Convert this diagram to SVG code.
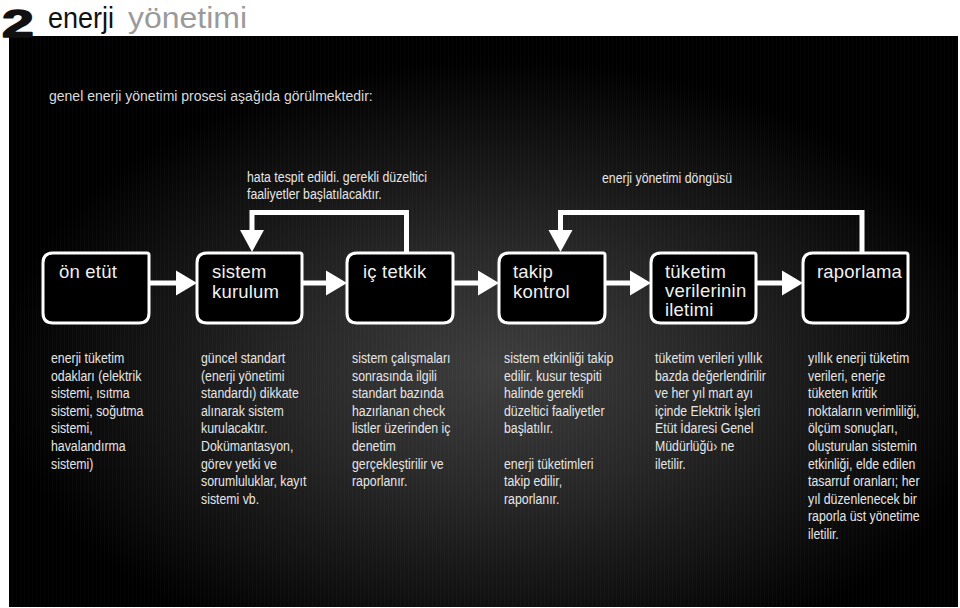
<svg xmlns="http://www.w3.org/2000/svg" width="960" height="608" viewBox="0 0 960 608">
<defs>
<radialGradient id="glow" gradientUnits="userSpaceOnUse" cx="500" cy="370" r="500" gradientTransform="translate(500 370) scale(1 0.62) translate(-500 -370)">
<stop offset="0" stop-color="#3e3e3e"/>
<stop offset="0.4" stop-color="#282828"/>
<stop offset="0.75" stop-color="#111"/>
<stop offset="1" stop-color="#000"/>
</radialGradient>
<pattern id="streaks" patternUnits="userSpaceOnUse" width="4" height="10">
<rect x="0" y="0" width="1" height="10" fill="#fff" fill-opacity="0.025"/>
</pattern>
<style>
.box{fill:#000;stroke:#fff;stroke-width:3}
.lbl{font-family:"Liberation Sans",Arial,sans-serif;font-size:18.5px;fill:#f0f0f0;letter-spacing:0.2px}
.desc{font-family:"Liberation Sans",Arial,sans-serif;font-size:14.5px;fill:#e6e6e6}
.line{fill:none;stroke:#fff;stroke-width:5;stroke-linejoin:miter}
.head{fill:#fff}
</style>
</defs>
<rect x="0" y="0" width="960" height="608" fill="#fff"/>
<rect x="9" y="36" width="949" height="571" fill="#000"/>
<rect x="9" y="36" width="949" height="571" fill="url(#glow)"/>
<rect x="9" y="36" width="949" height="571" fill="url(#streaks)"/>

<g id="title">
<text transform="translate(2,37) scale(1.5,1)" font-family="Liberation Sans,Arial,sans-serif" font-weight="bold" font-size="38" fill="#111" stroke="#111" stroke-width="1.6" stroke-linejoin="round">2</text>
<text transform="translate(48,28) scale(0.9,1)" font-family="Liberation Sans,Arial,sans-serif" font-size="30" fill="#111">enerji</text>
<text x="128" y="28" font-family="Liberation Sans,Arial,sans-serif" font-size="30" fill="#9a9a9a" textLength="119" lengthAdjust="spacingAndGlyphs">yönetimi</text>
</g>

<text id="intro" x="49" y="101" font-family="Liberation Sans,Arial,sans-serif" font-size="14" fill="#dcdcdc">genel enerji yönetimi prosesi aşağıda görülmektedir:</text>

<g id="connectors">
<path class="line" d="M149 283H177M302 283H327M453 283H479M605 283H631M756 283H783"/>
<path class="head" d="M176 270.5L197 283L176 295.5Z"/>
<path class="head" d="M326 270.5L347 283L326 295.5Z"/>
<path class="head" d="M478 270.5L499 283L478 295.5Z"/>
<path class="head" d="M630 270.5L651 283L630 295.5Z"/>
<path class="head" d="M782 270.5L803 283L782 295.5Z"/>
<path class="line" d="M406.5 253V212.5H252V232"/>
<path class="head" d="M240 230H264L252 252Z"/>
<path class="line" d="M862 253V212.5H560.5V232"/>
<path class="head" d="M548.5 230H572.5L560.5 252Z"/>
</g>

<g id="fb1-label">
<text class="desc" transform="translate(247,182) scale(0.85,1)"><tspan x="0" y="0">hata tespit edildi. gerekli düzeltici</tspan><tspan x="0" y="17">faaliyetler başlatılacaktır.</tspan></text>
</g>
<g id="fb2-label">
<text class="desc" transform="translate(602,183) scale(0.85,1)">enerji yönetimi döngüsü</text>
</g>

<g id="n-on-etut">
<path class="box" d="M53 253H147Q149 253 149 255V313Q149 323 139 323H53Q43 323 43 313V263Q43 253 53 253Z"/>
<text class="lbl" x="59" y="278">ön etüt</text>
</g>
<g id="n-sistem-kurulum">
<path class="box" d="M207 253H300Q302 253 302 255V313Q302 323 292 323H207Q197 323 197 313V263Q197 253 207 253Z"/>
<text class="lbl" x="212" y="278">sistem</text>
<text class="lbl" x="212" y="298">kurulum</text>
</g>
<g id="n-ic-tetkik">
<path class="box" d="M357 253H451Q453 253 453 255V313Q453 323 443 323H357Q347 323 347 313V263Q347 253 357 253Z"/>
<text class="lbl" x="363" y="278">iç tetkik</text>
</g>
<g id="n-takip-kontrol">
<path class="box" d="M509 253H603Q605 253 605 255V313Q605 323 595 323H509Q499 323 499 313V263Q499 253 509 253Z"/>
<text class="lbl" x="513" y="278">takip</text>
<text class="lbl" x="513" y="298">kontrol</text>
</g>
<g id="n-tuketim">
<path class="box" d="M661 253H754Q756 253 756 255V313Q756 323 746 323H661Q651 323 651 313V263Q651 253 661 253Z"/>
<text class="lbl" x="665" y="278">tüketim</text>
<text class="lbl" x="665" y="297">verilerinin</text>
<text class="lbl" x="665" y="316">iletimi</text>
</g>
<g id="n-raporlama">
<path class="box" d="M813 253H906Q908 253 908 255V313Q908 323 898 323H813Q803 323 803 313V263Q803 253 813 253Z"/>
<text class="lbl" x="817" y="278">raporlama</text>
</g>

<g id="d1">
<text class="desc" transform="translate(51,363) scale(0.85,1)"><tspan x="0" y="0">enerji tüketim</tspan><tspan x="0" dy="17.6">odakları (elektrik</tspan><tspan x="0" dy="17.6">sistemi, ısıtma</tspan><tspan x="0" dy="17.6">sistemi, soğutma</tspan><tspan x="0" dy="17.6">sistemi,</tspan><tspan x="0" dy="17.6">havalandırma</tspan><tspan x="0" dy="17.6">sistemi)</tspan></text>
</g>
<g id="d2">
<text class="desc" transform="translate(201,363) scale(0.85,1)"><tspan x="0" y="0">güncel standart</tspan><tspan x="0" dy="17.6">(enerji yönetimi</tspan><tspan x="0" dy="17.6">standardı) dikkate</tspan><tspan x="0" dy="17.6">alınarak sistem</tspan><tspan x="0" dy="17.6">kurulacaktır.</tspan><tspan x="0" dy="17.6">Dokümantasyon,</tspan><tspan x="0" dy="17.6">görev yetki ve</tspan><tspan x="0" dy="17.6">sorumluluklar, kayıt</tspan><tspan x="0" dy="17.6">sistemi vb.</tspan></text>
</g>
<g id="d3">
<text class="desc" transform="translate(352,363) scale(0.85,1)"><tspan x="0" y="0">sistem çalışmaları</tspan><tspan x="0" dy="17.6">sonrasında ilgili</tspan><tspan x="0" dy="17.6">standart bazında</tspan><tspan x="0" dy="17.6">hazırlanan check</tspan><tspan x="0" dy="17.6">listler üzerinden iç</tspan><tspan x="0" dy="17.6">denetim</tspan><tspan x="0" dy="17.6">gerçekleştirilir ve</tspan><tspan x="0" dy="17.6">raporlanır.</tspan></text>
</g>
<g id="d4">
<text class="desc" transform="translate(504,363) scale(0.85,1)"><tspan x="0" y="0">sistem etkinliği takip</tspan><tspan x="0" dy="17.6">edilir. kusur tespiti</tspan><tspan x="0" dy="17.6">halinde gerekli</tspan><tspan x="0" dy="17.6">düzeltici faaliyetler</tspan><tspan x="0" dy="17.6">başlatılır.</tspan><tspan x="0" dy="35.2">enerji tüketimleri</tspan><tspan x="0" dy="17.6">takip edilir,</tspan><tspan x="0" dy="17.6">raporlanır.</tspan></text>
</g>
<g id="d5">
<text class="desc" transform="translate(655,363) scale(0.85,1)"><tspan x="0" y="0">tüketim verileri yıllık</tspan><tspan x="0" dy="17.6">bazda değerlendirilir</tspan><tspan x="0" dy="17.6">ve her yıl mart ayı</tspan><tspan x="0" dy="17.6">içinde Elektrik İşleri</tspan><tspan x="0" dy="17.6">Etüt İdaresi Genel</tspan><tspan x="0" dy="17.6">Müdürlüğü› ne</tspan><tspan x="0" dy="17.6">iletilir.</tspan></text>
</g>
<g id="d6">
<text class="desc" transform="translate(808,363) scale(0.85,1)"><tspan x="0" y="0">yıllık enerji tüketim</tspan><tspan x="0" dy="17.6">verileri, enerje</tspan><tspan x="0" dy="17.6">tüketen kritik</tspan><tspan x="0" dy="17.6">noktaların verimliliği,</tspan><tspan x="0" dy="17.6">ölçüm sonuçları,</tspan><tspan x="0" dy="17.6">oluşturulan sistemin</tspan><tspan x="0" dy="17.6">etkinliği, elde edilen</tspan><tspan x="0" dy="17.6">tasarruf oranları; her</tspan><tspan x="0" dy="17.6">yıl düzenlenecek bir</tspan><tspan x="0" dy="17.6">raporla üst yönetime</tspan><tspan x="0" dy="17.6">iletilir.</tspan></text>
</g>
</svg>
